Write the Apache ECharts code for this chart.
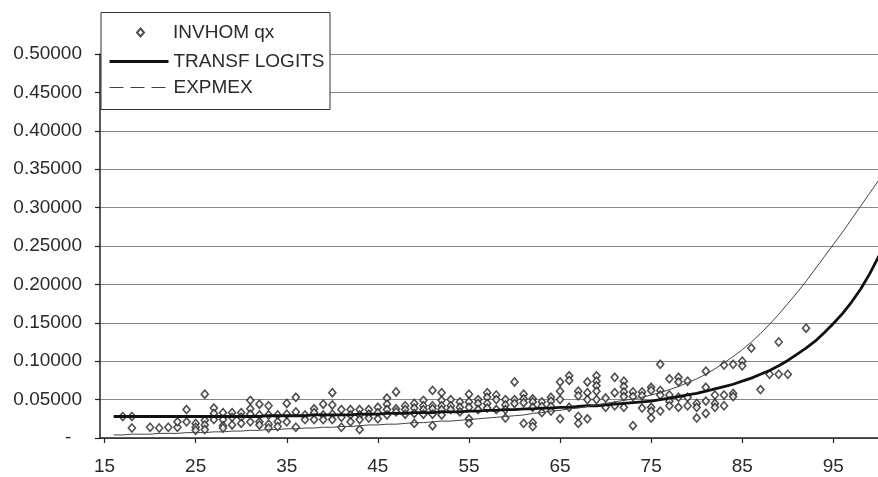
<!DOCTYPE html>
<html><head><meta charset="utf-8">
<script src="https://cdn.jsdelivr.net/npm/echarts@6/dist/echarts.min.js"></script>
<style>html,body{margin:0;padding:0;background:#fff}#c{width:878px;height:477px}</style>
</head><body><div id="c"></div>
<script>
// x-axis tick labels (ages)
const xTickLabels = [15, 25, 35, 45, 55, 65, 75, 85, 95];

// ages for the two fitted curves
const lineAges = [16,17,18,19,20,21,22,23,24,25,26,27,28,29,30,31,32,33,34,35,36,37,38,39,40,
  41,42,43,44,45,46,47,48,49,50,51,52,53,54,55,56,57,58,59,60,61,62,63,64,65,66,67,68,69,70,
  71,72,73,74,75,76,77,78,79,80,81,82,83,84,85,86,87,88,89,90,91,92,93,94,95,96,97,98,99,100];

// TRANSF LOGITS (thick line)
const transfLogits = [0.028,0.028,0.028,0.028,0.028,0.028,0.028,0.028,0.028,0.028,0.028,0.028,0.028,0.028,0.028,
  0.028,0.028,0.029,0.029,0.029,0.029,0.029,0.030,0.030,0.030,
  0.030,0.030,0.031,0.031,0.031,0.032,0.032,0.032,0.033,0.033,
  0.033,0.034,0.034,0.034,0.035,0.035,0.036,0.036,0.037,0.037,
  0.038,0.038,0.039,0.039,0.040,0.040,0.041,0.042,0.042,0.043,
  0.044,0.045,0.046,0.047,0.048,0.050,0.052,0.054,0.056,0.058,
  0.061,0.064,0.067,0.070,0.074,0.078,0.083,0.088,0.094,0.101,
  0.109,0.117,0.126,0.137,0.149,0.162,0.177,0.194,0.214,0.237];

// EXPMEX (thin line)
const expmex = [0.004,0.004,0.005,0.005,0.005,0.006,0.006,0.006,0.007,0.007,
  0.007,0.008,0.008,0.009,0.009,0.010,0.010,0.011,0.011,0.012,
  0.012,0.013,0.013,0.014,0.014,0.015,0.015,0.016,0.017,0.017,
  0.018,0.018,0.019,0.020,0.020,0.021,0.022,0.022,0.023,0.024,
  0.025,0.026,0.027,0.028,0.029,0.030,0.032,0.033,0.035,0.036,
  0.038,0.039,0.041,0.043,0.045,0.047,0.049,0.051,0.053,0.056,
  0.059,0.063,0.067,0.072,0.077,0.083,0.090,0.098,0.106,0.115,
  0.125,0.136,0.148,0.161,0.175,0.189,0.204,0.220,0.236,0.252,
  0.268,0.285,0.302,0.319,0.336];

// INVHOM qx observed points
const scatterAges = [17,18,18,20,21,22,23,23,24,24,25,25,25,26,26,26,26,27,27,27,28,28,28,28,29,29,29,30,30,30,
  31,31,31,31,32,32,32,32,33,33,33,33,34,34,34,35,35,35,36,36,36,37,37,38,38,38,39,39,39,40,40,40,40,
  41,41,41,42,42,42,43,43,43,43,44,44,44,45,45,45,46,46,46,46,47,47,47,48,48,48,49,49,49,49,50,50,50,50,
  51,51,51,51,51,52,52,52,52,52,53,53,53,54,54,54,55,55,55,55,55,56,56,56,57,57,57,57,58,58,58,59,59,59,59,
  60,60,60,61,61,61,61,62,62,62,62,62,63,63,63,64,64,64,64,65,65,65,65,66,66,66,67,67,67,67,68,68,68,68,
  69,69,69,69,69,70,70,71,71,71,72,72,72,72,72,73,73,73,74,74,74,75,75,75,75,75,76,76,76,76,77,77,77,77,
  78,78,78,78,79,79,79,80,80,80,81,81,81,81,82,82,82,83,83,83,84,84,84,85,85,86,87,88,89,89,90,92];
const scatterQx = [0.028,0.028,0.013,0.014,0.013,0.014,0.014,0.021,0.037,0.021,0.019,0.014,0.010,0.057,0.023,0.017,0.011,0.039,0.032,0.024,0.033,0.024,0.016,0.013,0.033,0.027,0.017,0.033,0.027,0.019,
  0.049,0.038,0.031,0.021,0.044,0.030,0.021,0.017,0.042,0.030,0.018,0.013,0.030,0.021,0.015,0.045,0.031,0.021,0.053,0.034,0.014,0.030,0.024,0.038,0.033,0.024,0.044,0.030,0.024,0.059,0.043,0.031,0.024,
  0.037,0.027,0.014,0.037,0.030,0.021,0.037,0.030,0.024,0.011,0.037,0.031,0.026,0.040,0.033,0.025,0.052,0.044,0.037,0.030,0.060,0.038,0.034,0.042,0.037,0.031,0.045,0.039,0.032,0.019,0.049,0.042,0.037,0.031,
  0.062,0.042,0.038,0.031,0.016,0.059,0.049,0.042,0.037,0.030,0.050,0.042,0.037,0.047,0.040,0.034,0.057,0.047,0.040,0.025,0.019,0.050,0.045,0.037,0.059,0.053,0.045,0.039,0.056,0.050,0.037,0.050,0.043,0.037,0.026,
  0.073,0.050,0.045,0.057,0.051,0.046,0.019,0.051,0.047,0.040,0.020,0.015,0.047,0.041,0.033,0.053,0.048,0.041,0.035,0.073,0.061,0.050,0.025,0.081,0.075,0.040,0.061,0.055,0.028,0.019,0.073,0.059,0.050,0.025,
  0.081,0.074,0.068,0.061,0.050,0.052,0.040,0.079,0.059,0.042,0.074,0.067,0.060,0.054,0.040,0.060,0.054,0.016,0.060,0.055,0.039,0.066,0.062,0.040,0.035,0.026,0.096,0.062,0.056,0.035,0.077,0.056,0.048,0.042,
  0.079,0.073,0.053,0.040,0.074,0.053,0.042,0.045,0.040,0.026,0.087,0.066,0.048,0.032,0.056,0.045,0.040,0.095,0.056,0.042,0.096,0.058,0.054,0.100,0.094,0.117,0.063,0.083,0.125,0.083,0.083,0.143];

const FONT = '"Liberation Sans", Arial, sans-serif';
const TXT = '#2a2a2a';

const chart = echarts.init(document.getElementById('c'), null, {renderer: 'canvas'});
chart.setOption({
  backgroundColor: '#ffffff',
  animation: false,
  textStyle: {fontFamily: FONT},
  grid: {left: 100, right: 0, top: 54, bottom: 39, containLabel: false},
  xAxis: {
    type: 'value', min: 14.5, max: 99.9,
    axisLine: {show: true, onZero: false, lineStyle: {color: '#222', width: 1.5}},
    axisTick: {show: true, customValues: xTickLabels, length: 5, lineStyle: {color: '#222', width: 1.2}},
    axisLabel: {customValues: xTickLabels, margin: 19, fontSize: 19, color: TXT, fontFamily: FONT},
    splitLine: {show: false}
  },
  yAxis: {
    type: 'value', min: 0, max: 0.5, interval: 0.05,
    axisLine: {show: true, lineStyle: {color: '#222', width: 1.5}},
    axisTick: {show: true, length: 5, lineStyle: {color: '#222', width: 1.2}},
    axisLabel: {margin: 18, fontSize: 19, color: TXT, fontFamily: FONT,
      formatter: v => (Math.abs(v) < 1e-9 ? '-  ' : v.toFixed(5))},
    splitLine: {show: true, lineStyle: {color: '#858585', width: 1}}
  },
  graphic: [{
    type: 'rect', z: 50, silent: true,
    shape: {x: 101, y: 12.5, width: 229, height: 97},
    style: {fill: '#ffffff', stroke: '#333', lineWidth: 1}
  }],
  legend: [{
    z: 60, left: 136, top: 23, orient: 'vertical',
    itemWidth: 7, itemHeight: 8, padding: 0,
    data: ['INVHOM qx'],
    textStyle: {fontSize: 19, color: TXT, fontFamily: FONT, padding: [0, 0, 0, 24]}
  }, {
    z: 60, left: 108, top: 52, orient: 'vertical',
    itemWidth: 59, itemHeight: 14, itemGap: 7, padding: 0,
    data: [
      {name: 'TRANSF LOGITS', itemStyle: {opacity: 0}, lineStyle: {width: 3, color: '#111'}},
      {name: 'EXPMEX', itemStyle: {opacity: 0}, lineStyle: {type: [14, 7], width: 1, color: '#444'}}
    ],
    textStyle: {fontSize: 19, color: TXT, fontFamily: FONT}
  }],
  series: [{
    name: 'INVHOM qx', type: 'scatter',
    data: scatterAges.map((a, i) => [a, scatterQx[i]]),
    symbol: 'diamond', symbolSize: [7, 8],
    itemStyle: {color: '#ffffff', borderColor: '#222', borderWidth: 1.6},
    z: 3
  }, {
    name: 'TRANSF LOGITS', type: 'line',
    data: lineAges.map((a, i) => [a, transfLogits[i]]),
    symbol: 'none', smooth: false,
    itemStyle: {color: '#111'},
    lineStyle: {color: '#111', width: 2.8},
    z: 4
  }, {
    name: 'EXPMEX', type: 'line',
    data: lineAges.map((a, i) => [a, expmex[i]]),
    symbol: 'none', smooth: false,
    itemStyle: {color: '#444'},
    lineStyle: {color: '#444', width: 1},
    z: 4
  }]
});
</script>
</body></html>
